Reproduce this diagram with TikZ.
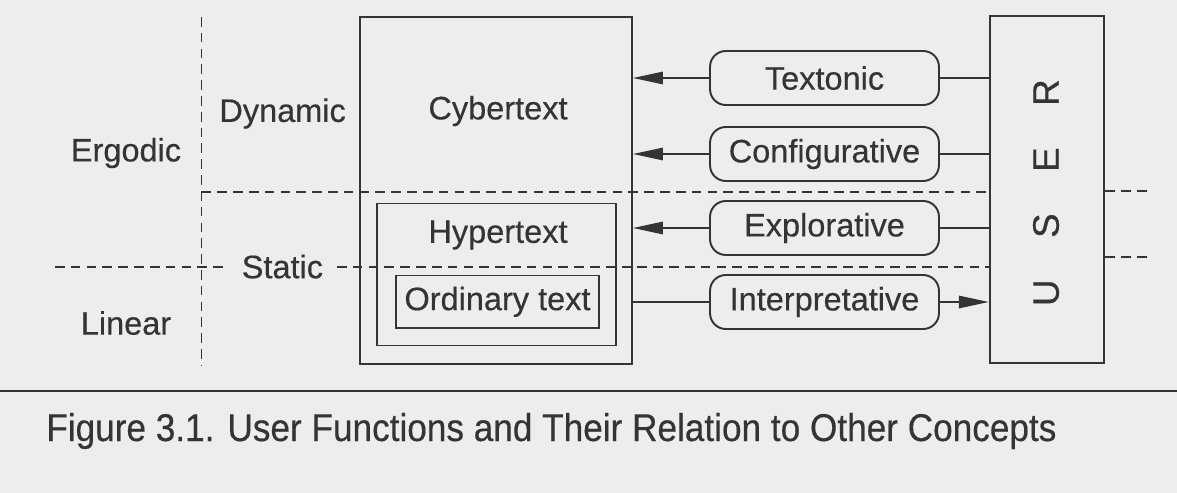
\documentclass[tikz,border=0pt]{standalone}
\usepackage{fontspec}
\usepackage{graphicx}
\setmainfont{Liberation Sans}[FakeBold=0.4]
\usetikzlibrary{arrows.meta}
\definecolor{ink}{RGB}{52,52,52}
\definecolor{paper}{RGB}{237,237,235}
\begin{document}
\begin{tikzpicture}[x=0.02cm,y=-0.02cm,
  every node/.style={text=ink},
  lbl/.style={font=\fontsize{18.5}{22}\selectfont, inner sep=0pt},
  box/.style={draw=ink, line width=1.1pt, inner sep=0pt},
  fbox/.style={draw=ink, line width=1.1pt, rounded corners=9pt, minimum width=4.58cm, minimum height=1.08cm, font=\fontsize{18.5}{22}\selectfont, inner sep=0pt},
  conn/.style={draw=ink, line width=1.1pt},
  arr/.style={conn, -{Triangle[length=17pt,width=7pt]}},
  dsh/.style={draw=ink, line width=0.8pt, dash pattern=on 5.5pt off 3.5pt}]
\fill[paper] (0,0) rectangle (1177,493);
\useasboundingbox (0,0) rectangle (1177,493);

% boxes
\node[box, minimum width=5.44cm, minimum height=6.93cm] (cyber) at (496,190.5) {};
\node[lbl] (cyberlbl) at (498,111) {Cybertext};
\node[box, minimum width=4.78cm, minimum height=2.84cm] (hyper) at (496.5,274.5) {};
\node[lbl] (hyperlbl) at (498,235) {Hypertext};
\node[box, minimum width=4.06cm, minimum height=1.05cm, font=\fontsize{18.5}{22}\selectfont] (ord) at (497.5,301.75) {Ordinary text};

\node[box, minimum width=2.29cm, minimum height=6.94cm] (user) at (1047,189.5) {};
\node[rotate=90, inner sep=0pt, font=\fontsize{21}{25}\selectfont] (userlbl) at (1046,192.6) {U\hspace{23.6pt}S\hspace{23.6pt}E\hspace{23.6pt}R};

\node[fbox] (tex) at (824.5,78) {Textonic};
\node[fbox] (conf) at (824.5,154) {Configurative};
\node[fbox] (expl) at (824.5,228) {Explorative};
\node[fbox] (interp) at (824.5,302) {Interpretative};

% connectors
\draw[arr] (tex.west) -- (tex.west -| cyber.east);
\draw[arr] (conf.west) -- (conf.west -| cyber.east);
\draw[arr] (expl.west) -- (expl.west -| cyber.east);
\draw[conn] (interp.west) -- (interp.west -| cyber.east);
\draw[conn] (tex.east) -- (tex.east -| user.west);
\draw[conn] (conf.east) -- (conf.east -| user.west);
\draw[conn] (expl.east) -- (expl.east -| user.west);
\draw[arr] (interp.east) -- (interp.east -| user.west);

% axis labels
\node[lbl] (ergodic) at (126,153) {Ergodic};
\node[lbl] (dynamic) at (282.6,113.5) {Dynamic};
\node[lbl] (static) at (282.4,266.6) {Static};
\node[lbl] (linear) at (126,323) {Linear};

% dashed lines
\coordinate (vt) at (201.5,17);
\coordinate (vb) at (201.5,365);
\draw[dsh] (vt) -- (vb);
\coordinate (ud) at (201.5,192);
\draw[dsh] (ud) -- (ud -| user.west);
\coordinate (urend) at (1147,191);
\draw[dsh] (urend -| user.east) -- (urend);
\coordinate (ll) at (55,267);
\coordinate (lm) at (225,267);
\draw[dsh] (ll) -- (lm);
\coordinate (lm2) at (337,267);
\draw[dsh] (lm2) -- (lm2 -| user.west);
\coordinate (lrend) at (1147,257);
\draw[dsh] (lrend -| user.east) -- (lrend);

% caption
\coordinate (rl) at (0,391);
\coordinate (rr) at (1177,391);
\draw[ink, line width=1.7pt] (rl) -- (rr);
\node[anchor=base west, inner sep=0pt, font=\fontsize{22}{26}\selectfont] (cap) at (46,441) {\scalebox{0.91}[1]{Figure 3.1. User Functions and Their Relation to Other Concepts}};
\end{tikzpicture}
\end{document}
